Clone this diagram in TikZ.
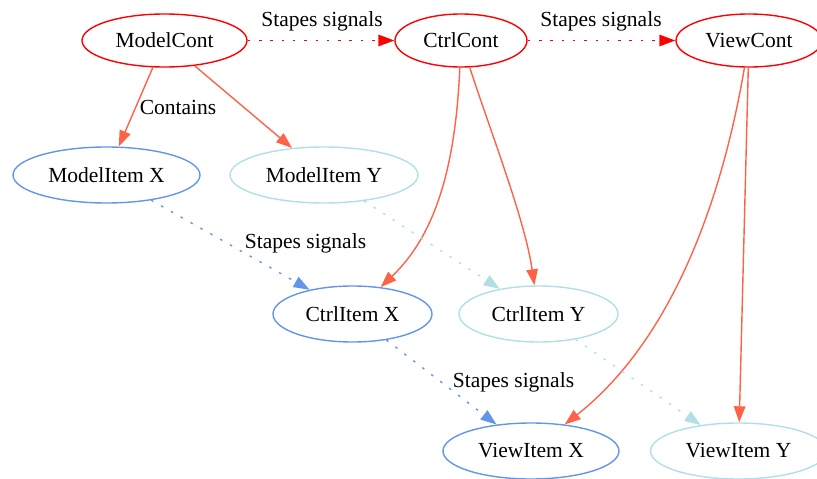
\documentclass[tikz,border=0pt]{standalone}
\usepackage{fontspec}
\setmainfont{Liberation Serif}
\usetikzlibrary{shapes.geometric,arrows.meta}
\definecolor{gvred}{HTML}{FF0000}
\definecolor{tomato}{HTML}{FF6347}
\definecolor{cfblue}{HTML}{6495ED}
\definecolor{pblue}{HTML}{B0E0E6}
\begin{document}
\begin{tikzpicture}[x=1pt,y=-1pt,
  every node/.style={font=\fontsize{21.5pt}{25pt}\selectfont, text=black},
  gvnode/.style={ellipse, draw, line width=1.4pt, inner sep=0pt},
  cont/.style={gvnode, draw=gvred, minimum height=53pt},
  itemx/.style={gvnode, draw=cfblue, minimum height=56pt},
  itemy/.style={gvnode, draw=pblue, minimum height=56pt},
  gvarrow/.style={line width=1.4pt, -{Triangle[length=16pt,width=11.5pt]}},
  own/.style={gvarrow, draw=tomato},
  sig/.style={gvarrow, dash pattern=on 2.5pt off 8.8pt},
  lbl/.style={inner sep=0pt}
]
\useasboundingbox (0,0) rectangle (817,479);

% nodes
\node[cont, minimum width=165pt] (MC) at (164.5,40.5) {ModelCont};
\node[cont, minimum width=132pt] (CC) at (461,40.5) {CtrlCont};
\node[cont, minimum width=146pt] (VC) at (749,40.5) {ViewCont};

\node[itemx, minimum width=187pt] (MX) at (106.5,175) {ModelItem X};
\node[itemy, minimum width=188pt] (MY) at (324,175) {ModelItem Y};

\node[itemx, minimum width=159pt] (CX) at (352.5,314) {CtrlItem X};
\node[itemy, minimum width=159pt] (CY) at (538.5,314) {CtrlItem Y};

\node[itemx, minimum width=176pt] (VX) at (531,451) {ViewItem X};
\node[itemy, minimum width=176pt] (VY) at (738.5,451) {ViewItem Y};

% container signal edges
\draw[sig, draw=gvred] (MC) -- (CC);
\draw[sig, draw=gvred] (CC) -- (VC);

% contains edges
\draw[own] (MC) -- (MX);
\draw[own] (MC.-40) -- (MY);
\draw[own] (CC) .. controls (455,180) and (430,240) .. (CX);
\draw[own] (CC) .. controls (490,130) and (525,220) .. (CY);
\draw[own] (VC) .. controls (722,200) and (672,340) .. (VX);
\draw[own] (VC) -- (VY);

% item signal edges
\draw[sig, draw=cfblue] (MX) -- (CX);
\draw[sig, draw=pblue] (MY) -- (CY);
\draw[sig, draw=cfblue] (CX) -- (VX);
\draw[sig, draw=pblue] (CY) -- (VY);

% labels
\node[lbl] (l1) at (322,21) {Stapes signals};
\node[lbl] (l2) at (601,21) {Stapes signals};
\node[lbl] (l3) at (178,107) {Contains};
\node[lbl] (l4) at (305.5,243) {Stapes signals};
\node[lbl] (l5) at (513.5,382) {Stapes signals};
\end{tikzpicture}
\end{document}
